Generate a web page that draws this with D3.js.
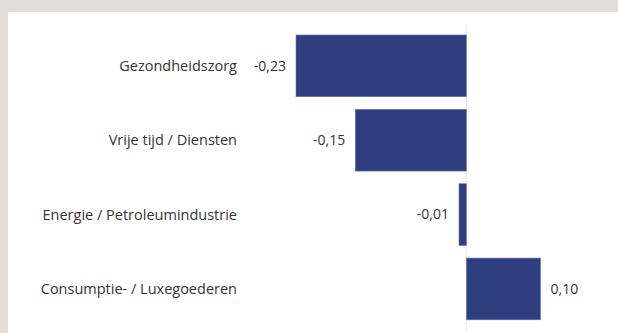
<!DOCTYPE html>
<html>
<head>
<meta charset="utf-8">
<script src="https://cdn.jsdelivr.net/npm/d3@7"></script>
<style>
  html, body { margin: 0; padding: 0; background: #e2ddd8; }
  svg { display: block; }
</style>
</head>
<body>
<svg id="chart" width="618" height="333"></svg>
<script>
// Sector contributions (decimal comma in labels)
const categories = [
  "Gezondheidszorg",
  "Vrije tijd / Diensten",
  "Energie / Petroleumindustrie",
  "Consumptie- / Luxegoederen"
];
const values = [-0.23, -0.15, -0.01, 0.10];

const W = 618, H = 333;
const svg = d3.select("#chart");
const FONT = "'Open Sans', 'Liberation Sans', sans-serif";
const FS = 14.5;

// white panel inside the warm grey frame
svg.append("rect")
  .attr("x", 8).attr("y", 12)
  .attr("width", W - 8).attr("height", H - 12)
  .attr("fill", "#ffffff");

const x = d3.scaleLinear()
  .domain([-0.23, 0.10])
  .range([296, 540.5]);

const y = d3.scaleBand()
  .domain(categories)
  .range([28.3, 326.5])
  .paddingInner(0.17)
  .paddingOuter(0.09);

const fmt = v => d3.format(".2f")(v).replace("−", "-").replace(".", ",");

// zero baseline
svg.append("line")
  .attr("x1", x(0)).attr("x2", x(0))
  .attr("y1", 24).attr("y2", 331)
  .attr("stroke", "#ececec")
  .attr("stroke-width", 1.5);

const data = categories.map((c, i) => ({ c, v: values[i] }));

svg.selectAll("rect.bar")
  .data(data)
  .join("rect")
  .attr("class", "bar")
  .attr("x", d => x(Math.min(0, d.v)))
  .attr("width", d => Math.abs(x(d.v) - x(0)))
  .attr("y", d => y(d.c))
  .attr("height", y.bandwidth())
  .attr("fill", "#2f3e7e")
  .attr("stroke", "#6a76aa")
  .attr("stroke-width", 0.6);

// category labels
svg.selectAll("text.cat")
  .data(data)
  .join("text")
  .attr("class", "cat")
  .attr("x", 237)
  .attr("y", d => y(d.c) + y.bandwidth() / 2)
  .attr("dy", "0.35em")
  .attr("text-anchor", "end")
  .attr("font-family", FONT)
  .attr("font-size", FS)
  .attr("fill", "#333333")
  .text(d => d.c);

// value labels at bar ends
svg.selectAll("text.val")
  .data(data)
  .join("text")
  .attr("class", "val")
  .attr("x", d => d.v < 0 ? x(d.v) - 10 : x(d.v) + 10)
  .attr("y", d => y(d.c) + y.bandwidth() / 2)
  .attr("dy", "0.35em")
  .attr("text-anchor", d => d.v < 0 ? "end" : "start")
  .attr("font-family", FONT)
  .attr("font-size", 14)
  .attr("fill", "#333333")
  .text(d => fmt(d.v));
</script>
</body>
</html>
